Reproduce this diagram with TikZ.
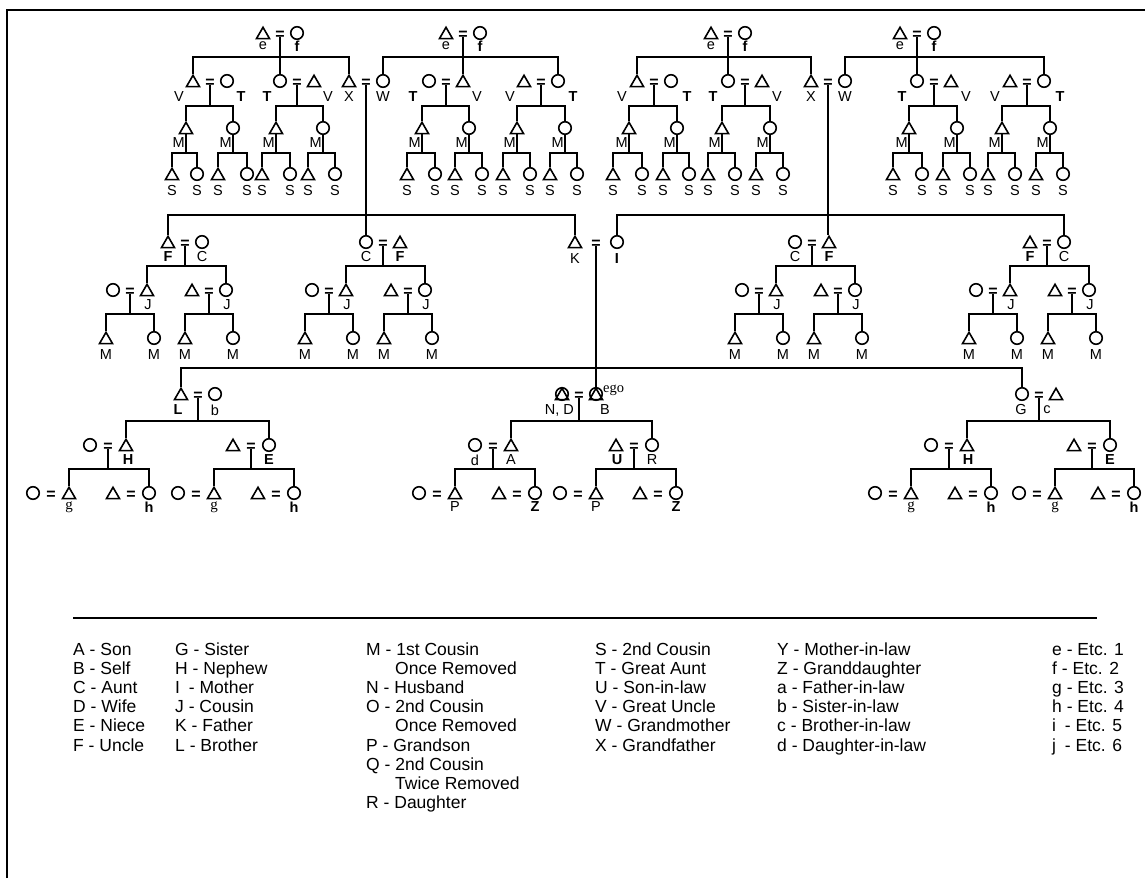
\documentclass[tikz,border=0pt]{standalone}
\usepackage{fontspec}
\setmainfont{Liberation Sans}
\newfontfamily\serf{Liberation Serif}
\usetikzlibrary{shapes.geometric}
\tikzset{man/.style={regular polygon,regular polygon sides=3,draw,line width=1.6pt,minimum size=15pt,inner sep=0pt,yshift=-1.8pt},
wom/.style={circle,draw,line width=1.6pt,minimum size=12.5pt,inner sep=0pt},
eq/.style={inner sep=0pt,font=\bfseries\fontsize{16}{16}\selectfont},
lb/.style={inner sep=0pt,font=\fontsize{14.5}{14.5}\selectfont},
lbb/.style={inner sep=0pt,font=\bfseries\fontsize{14.5}{14.5}\selectfont},
tie/.style={line width=1.8pt},
legtext/.style={inner sep=0pt,anchor=base west,font=\fontsize{17.5}{17.5}\selectfont}}
\newcommand\eqs{\raisebox{-2.6pt}[\height][0pt]{=}}
% couple: [gap]{name}{x left}{y}{left}{right}
\newcommand\cpl[6][17]{%
\node[#5] (#2l) at (#3,#4) {};
\node[eq] (#2) at (#3+#1,#4) {\eqs};
\node[#6] (#2r) at (#3+2*#1,#4) {};}
% line of descent: {from}{left child}{right child}{bar y}
\newcommand\sib[4]{%
\draw[tie] (#1.south) -- (#1.south |- 0,#4);
\draw[tie] (#2.north) |- (#3.north |- 0,#4) -- (#3.north);}
% top rows: children and grandchildren of a couple
\newcommand\kin[7]{%
\node[man] (#1c1) at (#2,128) {};
\node[wom] (#1c2) at (#3,128) {};
\sib{#1}{#1c1}{#1c2}{106}
\node[man] (#1g1) at (#4,174) {};
\node[wom] (#1g2) at (#5,174) {};
\node[man] (#1g3) at (#6,174) {};
\node[wom] (#1g4) at (#7,174) {};
\sib{#1c1}{#1g1}{#1g2}{153}
\sib{#1c2}{#1g3}{#1g4}{153}
\node[lb,anchor=east] (#1m1) at (#2-1.2,143) {M};
\node[lb,anchor=east] (#1m2) at (#3-1.2,143) {M};
\foreach \k/\x in {1/#4,2/#5,3/#6,4/#7} \node[lb] (#1s\k) at (\x,191) {S};}
% middle rows: cousins and their children
\newcommand\midgen[3]{%
\cpl{#1a}{#2-34}{290}{wom}{man}
\cpl{#1b}{#3-34}{290}{man}{wom}
\sib{#1}{#1ar}{#1br}{266}
\node[lb] (#1aj) at (#2+1,305) {J};
\node[lb] (#1bj) at (#3+1,305) {J};
\node[man] (#1a1) at (#2-41,338) {};
\node[wom] (#1a2) at (#2+7,338) {};
\node[man] (#1b1) at (#3-41,338) {};
\node[wom] (#1b2) at (#3+7,338) {};
\sib{#1a}{#1a1}{#1a2}{314}
\sib{#1b}{#1b1}{#1b2}{314}
\foreach \k/\x in {1/#2-41,2/#2+7,3/#3-41,4/#3+7} \node[lb] (#1m\k) at (\x,355) {M};}
% lower rows: married children
\newcommand\lowgen[5]{%
\cpl[18]{#1a}{#2-36}{#5}{wom}{man}
\cpl[18]{#1b}{#3-36}{#5}{man}{wom}
\sib{#1}{#1ar}{#1br}{#4}}

\begin{document}
\begin{tikzpicture}[x=1pt,y=-1pt]
\useasboundingbox (0,0) rectangle (1145,878);
\draw[line width=2pt] (7,878) -- (7,10) -- (1145,10);

% great-great-grandparents and great-grandparents
\cpl{Aef}{263}{33}{man}{wom}
\cpl{Aa}{193}{81}{man}{wom}
\cpl{Ab}{280}{81}{wom}{man}
\cpl{PG}{349}{81}{man}{wom}
\draw[tie] (Aef.south) -- (Aef.south |- Abl.north);
\draw[tie] (Aal.north) |- (PGl.north |- 0,57) -- (PGl.north);
\kin{Aa}{186}{233}{172}{197}{218}{247}
\kin{Ab}{276}{323}{262}{290}{308}{335}

\cpl{Bef}{446}{33}{man}{wom}
\cpl{Ba}{429}{81}{wom}{man}
\cpl{Bb}{524}{81}{man}{wom}
\draw[tie] (Bef.south) -- (Bef.south |- Bar.north);
\draw[tie] (PGr.north) |- (Bbr.north |- 0,57) -- (Bbr.north);
\kin{Ba}{422}{469}{407}{435}{455}{482}
\kin{Bb}{517}{565}{503}{530}{550}{577}

\cpl{Cef}{711}{33}{man}{wom}
\cpl{Ca}{637}{81}{man}{wom}
\cpl{Cb}{728}{81}{wom}{man}
\cpl{MG}{811}{81}{man}{wom}
\draw[tie] (Cef.south) -- (Cef.south |- Cbl.north);
\draw[tie] (Cal.north) |- (MGl.north |- 0,57) -- (MGl.north);
\kin{Ca}{629}{677}{613}{642}{663}{689}
\kin{Cb}{722}{770}{708}{735}{756}{783}

\cpl{Def}{900}{33}{man}{wom}
\cpl{Da}{917}{81}{wom}{man}
\cpl{Db}{1010}{81}{man}{wom}
\draw[tie] (Def.south) -- (Def.south |- Dal.north);
\draw[tie] (MGr.north) |- (Dbr.north |- 0,57) -- (Dbr.north);
\kin{Da}{909}{957}{893}{922}{943}{970}
\kin{Db}{1002}{1050}{988}{1015}{1036}{1063}

\foreach \x [count=\i] in {263,446,711,900} \node[lb] (e\i) at (\x,46) {e};
\foreach \x [count=\i] in {297,480,745,934} \node[lbb] (f\i) at (\x,46) {f};
\foreach \x [count=\i] in {179,328,477,510,622,777,966,995} \node[lb] (v\i) at (\x,97) {V};
\foreach \x [count=\i] in {241,267,413,573,687,713,902,1060} \node[lbb] (t\i) at (\x,97) {T};
\node[lb] (x1) at (349,97) {X};
\node[lb] (w1) at (383,97) {W};
\node[lb] (x2) at (811,97) {X};
\node[lb] (w2) at (845,97) {W};

% grandparents' children
\cpl{Pa}{168}{242}{man}{wom}
\cpl{Pc}{366}{242}{wom}{man}
\cpl[21]{KI}{575}{242}{man}{wom}
\draw[tie] (PG.south) -- (PG.south |- Pcl.north);
\draw[tie] (Pal.north) |- (KIl.north |- 0,215) -- (KIl.north);
\cpl{Mc}{795}{242}{wom}{man}
\cpl{Md}{1030}{242}{man}{wom}
\draw[tie] (MG.south) -- (MG.south |- Mcr.north);
\draw[tie] (KIr.north) |- (Mdr.north |- 0,215) -- (Mdr.north);
\midgen{Pa}{147}{226}
\midgen{Pc}{346}{425}
\midgen{Mc}{776}{855}
\midgen{Md}{1010}{1089}
\node[lbb] (fa) at (168,257) {F};
\node[lb] (ca) at (202,257) {C};
\node[lb] (cb) at (366,257) {C};
\node[lbb] (fb) at (400,257) {F};
\node[lb] (k) at (575,259) {K};
\node[lbb] (i) at (617,259) {I};
\node[lb] (cc) at (795,257) {C};
\node[lbb] (fc) at (829,257) {F};
\node[lbb] (fd) at (1030,257) {F};
\node[lb] (cd) at (1064,257) {C};

% ego's generation
\cpl{Lb}{181}{394}{man}{wom}
\node[man] (EgNa) at (562,394) {};
\node[wom] (EgNb) at (562,394) {};
\node[eq] (Eg) at (579,394) {\eqs};
\node[man] (EgBa) at (596,394) {};
\node[wom] (EgBb) at (596,394) {};
\cpl{Gs}{1022}{394}{wom}{man}
\draw[tie] (KI.south) -- (KI.south |- EgBa.north);
\draw[tie] (Lbl.north) |- (Gsl.north |- 0,368) -- (Gsl.north);
\lowgen{Lb}{126}{269}{421}{445}
\lowgen{Lba}{69}{149}{469}{493}
\lowgen{Lbb}{214}{294}{469}{493}
\lowgen{Eg}{511}{652}{421}{445}
\lowgen{Ega}{455}{535}{469}{493}
\lowgen{Egb}{596}{676}{469}{493}
\lowgen{Gs}{967}{1110}{421}{445}
\lowgen{Gsa}{911}{991}{469}{493}
\lowgen{Gsb}{1055}{1134}{469}{493}
\node[lbb] (l) at (178,410) {L};
\node[lb] (b) at (215,410) {b};
\node[lb,anchor=east] (nd) at (574,410) {N, D};
\node[lb] (bb) at (605,410) {B};
\node[lb,anchor=west,font=\serf\fontsize{14.5}{14.5}\selectfont] (ego) at (603,390) {ego};
\node[lb] (g) at (1021,410) {G};
\node[lb] (c) at (1047,410) {c};
\foreach \x [count=\i] in {128,968} \node[lbb] (h\i) at (\x,460) {H};
\foreach \x [count=\i] in {269,1110} \node[lbb] (ee\i) at (\x,460) {E};
\node[lb] (d) at (475,460) {d};
\node[lb] (a) at (511,460) {A};
\node[lbb] (u) at (617,460) {U};
\node[lb] (r) at (652,460) {R};
\foreach \x [count=\i] in {69,214,911,1055} \node[lb,font=\serf\fontsize{15}{15}\selectfont] (gg\i) at (\x,507) {g};
\foreach \x [count=\i] in {149,294,991,1134} \node[lbb] (hh\i) at (\x,507) {h};
\foreach \x [count=\i] in {455,596} \node[lb] (p\i) at (\x,507) {P};
\foreach \x [count=\i] in {535,676} \node[lbb] (z\i) at (\x,507) {Z};

% key
\draw[tie] (73,618) -- (1097,618);
\foreach \t [count=\i] in {A - Son,B - Self,C - Aunt,D - Wife,E - Niece,F - Uncle}
  \node[legtext] (ka\i) at (73,655+19.2*\i-19.2) {\t};
\foreach \t [count=\i] in {G - Sister,H - Nephew,I\kern4pt{} - Mother,J - Cousin,K - Father,L - Brother}
  \node[legtext] (kb\i) at (175,655+19.2*\i-19.2) {\t};
\foreach \t [count=\i] in {M - 1st Cousin,\hspace*{29pt}Once Removed,N - Husband,O - 2nd Cousin,\hspace*{29pt}Once Removed,P - Grandson,Q - 2nd Cousin,\hspace*{29pt}Twice Removed,R - Daughter}
  \node[legtext] (kc\i) at (366,655+19.2*\i-19.2) {\t};
\foreach \t [count=\i] in {S - 2nd Cousin,T - Great Aunt,U - Son-in-law,V - Great Uncle,W - Grandmother,X - Grandfather}
  \node[legtext] (kd\i) at (595,655+19.2*\i-19.2) {\t};
\foreach \t [count=\i] in {Y - Mother-in-law,Z - Granddaughter,a - Father-in-law,b - Sister-in-law,c - Brother-in-law,d - Daughter-in-law}
  \node[legtext] (ke\i) at (777,655+19.2*\i-19.2) {\t};
\foreach \t [count=\i] in {e - Etc. 1,f - Etc. 2,g - Etc. 3,h - Etc. 4,i\kern4pt{} - Etc. 5,j\kern4pt{} - Etc. 6}
  \node[legtext] (kf\i) at (1052,655+19.2*\i-19.2) {\t};
\end{tikzpicture}
\end{document}
